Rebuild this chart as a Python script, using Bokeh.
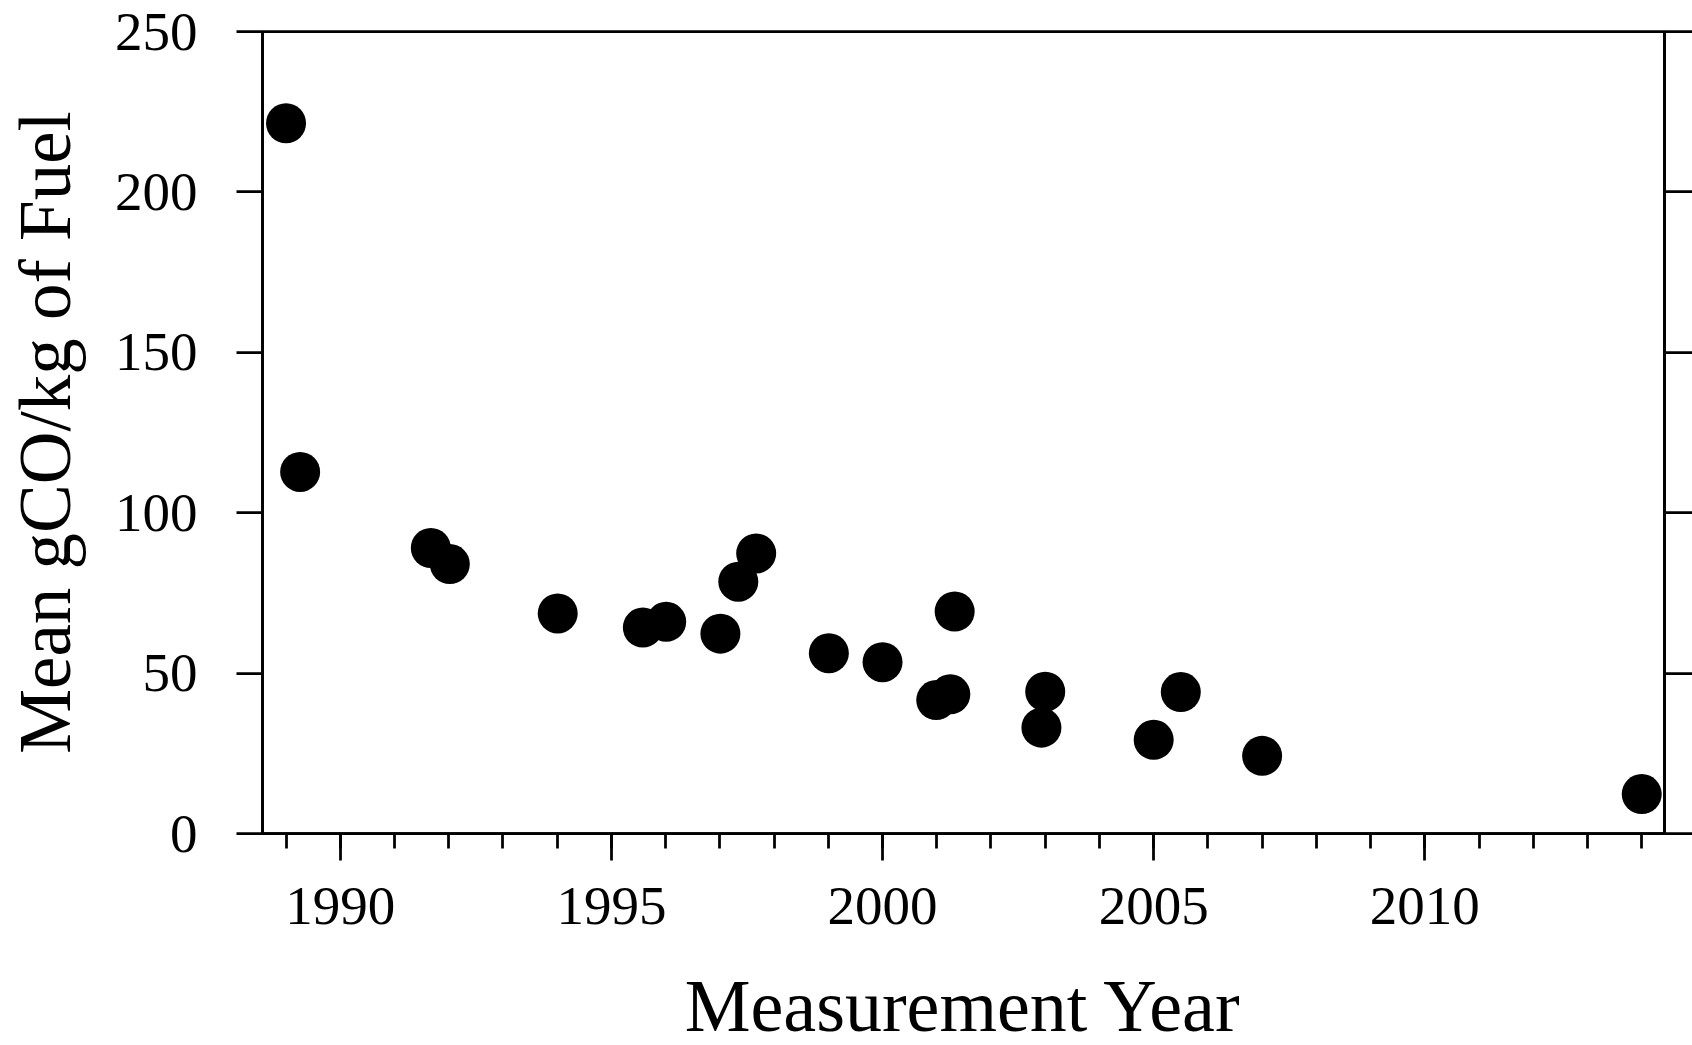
from bokeh.plotting import figure
from bokeh.models import Range1d, LinearAxis, SingleIntervalTicker, ColumnDataSource
from bokeh.embed import file_html
from bokeh.resources import INLINE

# Mean CO emission per kg of fuel, by measurement year
years = [1989.0, 1989.26, 1991.67, 1992.02, 1994.01, 1995.58, 1996.01, 1997.01,
         1997.34, 1997.67, 1999.01, 2000.0, 2000.99, 2001.25, 2001.33, 2002.93,
         2003.0, 2005.0, 2005.5, 2007.0, 2014.0]
mean_co = [221.4, 112.7, 89.0, 84.0, 68.6, 64.2, 66.0, 62.3,
           78.5, 87.3, 56.2, 53.4, 41.6, 43.4, 69.2, 33.0,
           44.2, 29.2, 44.1, 24.2, 12.3]

FONT = "Liberation Serif"
LW = 2.75

src = ColumnDataSource(data=dict(year=years, co=mean_co))

p = figure(
    frame_width=1402, frame_height=802,
    min_border_left=262, min_border_right=28, min_border_top=31, min_border_bottom=212,
    x_range=Range1d(1988.566, 2014.42), y_range=Range1d(0, 250),
    output_backend="svg", toolbar_location=None,
    x_axis_location="below", y_axis_location="left",
)
p.grid.visible = False
p.background_fill_color = "white"
p.border_fill_color = "white"
p.outline_line_color = "black"
p.outline_line_width = LW

p.scatter("year", "co", source=src, size=40, marker="circle",
          fill_color="black", line_color=None)

# bottom axis: labelled every 5 years, minor ticks every year
xa = p.xaxis[0]
xa.ticker = SingleIntervalTicker(interval=5, num_minor_ticks=5)
xa.axis_label = "Measurement Year"
xa.axis_line_width = LW
xa.axis_line_color = "black"
xa.major_tick_line_width = LW
xa.minor_tick_line_width = LW
xa.major_tick_line_color = "black"
xa.minor_tick_line_color = "black"
xa.major_tick_in = 0
xa.major_tick_out = 27
xa.minor_tick_in = 0
xa.minor_tick_out = 15
xa.major_label_text_font = FONT
xa.major_label_text_font_size = "55px"
xa.major_label_text_color = "black"
xa.major_label_standoff = 27
xa.axis_label_text_font = FONT
xa.axis_label_text_font_size = "74px"
xa.axis_label_text_font_style = "normal"
xa.axis_label_text_color = "black"
xa.axis_label_standoff = 38

# left axis
ya = p.yaxis[0]
ya.ticker = SingleIntervalTicker(interval=50, num_minor_ticks=0)
ya.axis_label = "Mean gCO/kg of Fuel"
ya.axis_line_width = LW
ya.axis_line_color = "black"
ya.major_tick_line_width = LW
ya.major_tick_line_color = "black"
ya.major_tick_in = 0
ya.major_tick_out = 26
ya.minor_tick_line_color = None
ya.major_label_text_font = FONT
ya.major_label_text_font_size = "55px"
ya.major_label_text_color = "black"
ya.major_label_standoff = 39
ya.axis_label_text_font = FONT
ya.axis_label_text_font_size = "73px"
ya.axis_label_text_font_style = "normal"
ya.axis_label_text_color = "black"
ya.axis_label_standoff = 26

# right axis: outward ticks only, no labels
ra = LinearAxis(ticker=SingleIntervalTicker(interval=50, num_minor_ticks=0))
ra.axis_line_width = LW
ra.axis_line_color = "black"
ra.major_tick_line_width = LW
ra.major_tick_line_color = "black"
ra.major_tick_in = 0
ra.major_tick_out = 28
ra.minor_tick_line_color = None
ra.major_label_text_font_size = "0px"
ra.major_label_text_color = None
ra.major_label_standoff = 0
p.add_layout(ra, "right")

open("out.html", "w").write(file_html(p, INLINE))
